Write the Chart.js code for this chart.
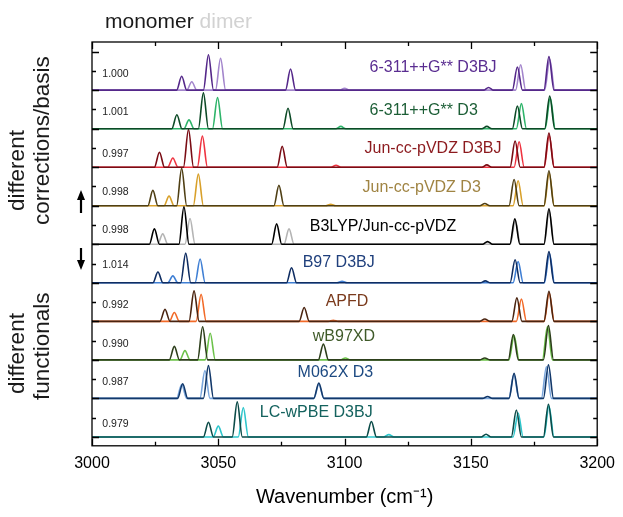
<!DOCTYPE html>
<html>
<head>
<meta charset="utf-8">
<script src="https://cdn.jsdelivr.net/npm/chart.js@4.4.0/dist/chart.umd.min.js"></script>
<style>
  html, body { margin: 0; padding: 0; background: #fff; }
</style>
</head>
<body>
<canvas id="spectra" width="623" height="517"></canvas>
<script>
// panels from top to bottom
const methods = ['6-311++G** D3BJ', '6-311++G** D3', 'Jun-cc-pVDZ D3BJ', 'Jun-cc-pVDZ D3',
    'B3LYP/Jun-cc-pVDZ', 'B97 D3BJ', 'APFD', 'wB97XD', 'M062X D3', 'LC-wPBE D3BJ'];
const scaleFactors = ['1.000', '1.001', '0.997', '0.998', '0.998', '1.014', '0.992', '0.990', '0.987', '0.979'];

// peak positions (cm-1) and heights (1 = panel spacing)
const monomerPos = [
    [3035.5, 3046.1, 3078.6, 3157.0, 3168.4, 3180.9],
    [3033.6, 3044.1, 3077.6, 3156.3, 3168.4, 3181.2],
    [3026.7, 3038.2, 3075.3, 3156.3, 3167.5, 3180.9],
    [3024.1, 3035.5, 3074.0, 3155.5, 3167.1, 3180.9],
    [3024.7, 3036.4, 3073.1, 3156.6, 3167.4, 3180.9],
    [3026.1, 3037.1, 3079.0, 3155.7, 3167.5, 3180.9],
    [3028.9, 3040.4, 3084.0, 3155.5, 3168.2, 3180.9],
    [3032.6, 3043.8, 3091.6, 3155.5, 3166.8, 3180.7],
    [3035.9, 3046.1, 3089.8, 3156.6, 3167.1, 3180.7],
    [3046.1, 3057.5, 3110.6, 3156.0, 3168.0, 3180.7]
];
const monomerInt = [
    [0.36, 0.92, 0.55, 0.07, 0.60, 0.87],
    [0.36, 0.93, 0.53, 0.06, 0.59, 0.85],
    [0.39, 0.98, 0.54, 0.06, 0.68, 0.89],
    [0.40, 0.97, 0.53, 0.06, 0.68, 0.91],
    [0.40, 0.97, 0.53, 0.07, 0.66, 0.92],
    [0.28, 0.77, 0.39, 0.05, 0.60, 0.81],
    [0.31, 0.79, 0.36, 0.06, 0.61, 0.78],
    [0.35, 0.86, 0.41, 0.05, 0.66, 0.89],
    [0.38, 0.85, 0.40, 0.05, 0.65, 0.87],
    [0.38, 0.91, 0.40, 0.07, 0.70, 0.85]
];
const dimerPos = [
    [3039.5, 3050.9, 3100.0, 3169.7, 3181.2],
    [3038.4, 3049.7, 3098.5, 3170.0, 3181.4],
    [3032.0, 3043.7, 3096.6, 3169.1, 3181.0],
    [3030.5, 3042.1, 3094.5, 3168.7, 3181.0],
    [3028.0, 3038.8, 3078.0, 3167.6, 3181.0],
    [3032.0, 3042.8, 3099.0, 3168.7, 3181.1],
    [3032.6, 3043.2, 3095.5, 3170.0, 3181.0],
    [3036.8, 3046.8, 3100.3, 3167.1, 3180.3],
    [3035.5, 3044.7, 3089.8, 3167.0, 3179.9],
    [3050.0, 3059.9, 3117.5, 3168.7, 3180.9]
];
const dimerInt = [
    [0.22, 0.83, 0.05, 0.66, 0.80],
    [0.23, 0.81, 0.06, 0.65, 0.80],
    [0.24, 0.81, 0.05, 0.66, 0.82],
    [0.25, 0.82, 0.04, 0.65, 0.85],
    [0.27, 0.67, 0.40, 0.62, 0.86],
    [0.18, 0.62, 0.04, 0.55, 0.76],
    [0.23, 0.70, 0.03, 0.58, 0.74],
    [0.24, 0.69, 0.05, 0.63, 0.86],
    [0.36, 0.72, 0.36, 0.62, 0.82],
    [0.28, 0.76, 0.06, 0.62, 0.80]
];

const monomerColors = ['#55288a', '#0c4a26', '#7a0c14', '#4f3f14', '#000000',
    '#0f2d62', '#4a2410', '#2d3f1b', '#12386a', '#0b4b48'];
const dimerColors = ['#a385cc', '#2eb46a', '#ef3340', '#d8a02a', '#b4b4b4',
    '#3f7fd4', '#f26a28', '#6cc24a', '#7aa6dc', '#2ec6cc'];
const titleColors = ['#5a2d91', '#1c5e36', '#8c1a1e', '#a08443', '#000000',
    '#1f3f7c', '#7a3a1c', '#3f5a29', '#1d4a82', '#14625e'];

// where the panel names start (cm-1) and how high they sit (panel units)
const titleX = [3109.9, 3109.9, 3107.9, 3107.1, 3086.2, 3083.4, 3092.5, 3087.4, 3081.4, 3066.4];
const titleDy = [0.58, 0.46, 0.48, 0.48, 0.46, 0.53, 0.51, 0.61, 0.66, 0.64];
const factorDy = [0.41, 0.43, 0.33, 0.36, 0.36, 0.46, 0.43, 0.41, 0.43, 0.33];

const xTicks = [3000, 3050, 3100, 3150, 3200];
const halfWidth = 2.0;

function buildSpectrum(pos, ints, offset) {
    const pts = [{ x: 3000, y: offset }];
    pos.forEach((p, k) => {
        pts.push({ x: p - halfWidth, y: offset });
        pts.push({ x: p, y: offset + ints[k] });
        pts.push({ x: p + halfWidth, y: offset });
    });
    pts.push({ x: 3200, y: offset });
    return pts;
}

const datasets = [];
methods.forEach((name, i) => {
    const offset = methods.length - 1 - i;
    datasets.push({
        label: name + ' monomer',
        data: buildSpectrum(monomerPos[i], monomerInt[i], offset),
        borderColor: monomerColors[i],
        borderWidth: 1.6,
        order: 1
    });
    datasets.push({
        label: name + ' dimer',
        data: buildSpectrum(dimerPos[i], dimerInt[i], offset),
        borderColor: dimerColors[i],
        borderWidth: 1.6,
        order: 2
    });
});

const decorations = {
    id: 'decorations',
    afterDatasetsDraw(chart) {
        const { ctx, chartArea: a, scales: { x, y } } = chart;
        ctx.save();

        // panel names and scale factors
        methods.forEach((name, i) => {
            const offset = methods.length - 1 - i;
            ctx.font = '16px "Liberation Sans", Arial, sans-serif';
            ctx.fillStyle = titleColors[i];
            ctx.textAlign = 'left';
            ctx.textBaseline = 'middle';
            ctx.fillText(name, x.getPixelForValue(titleX[i]), y.getPixelForValue(offset + titleDy[i]));

            ctx.font = '10.5px "Liberation Sans", Arial, sans-serif';
            ctx.fillStyle = '#222';
            ctx.textAlign = 'center';
            ctx.fillText(scaleFactors[i], x.getPixelForValue(3009.3), y.getPixelForValue(offset + factorDy[i]));
        });

        // frame + inward ticks
        ctx.strokeStyle = '#000';
        ctx.lineWidth = 1.3;
        ctx.strokeRect(a.left, a.top, a.right - a.left, a.bottom - a.top);
        ctx.beginPath();
        for (let v = 3000; v <= 3200; v += 25) {
            const px = Math.round(x.getPixelForValue(v)) + 0.5;
            const len = v % 50 === 0 ? 7 : 4;
            ctx.moveTo(px, a.bottom); ctx.lineTo(px, a.bottom - len);
            ctx.moveTo(px, a.top); ctx.lineTo(px, a.top + len);
        }
        for (let v = 0; v <= 10; v += 0.5) {
            const py = Math.round(y.getPixelForValue(v)) + 0.5;
            const len = Number.isInteger(v) ? 7 : 4;
            ctx.moveTo(a.left, py); ctx.lineTo(a.left + len, py);
            ctx.moveTo(a.right, py); ctx.lineTo(a.right - len, py);
        }
        ctx.stroke();
        ctx.restore();
    },
    afterDraw(chart) {
        const { ctx } = chart;
        ctx.save();
        // header
        ctx.font = '21px "Liberation Sans", Arial, sans-serif';
        ctx.textBaseline = 'alphabetic';
        ctx.textAlign = 'left';
        ctx.fillStyle = '#1a1a1a';
        ctx.fillText('monomer', 105, 28);
        const w = ctx.measureText('monomer ').width;
        ctx.fillStyle = '#d2d2d2';
        ctx.fillText('dimer', 105 + w, 28);

        // side labels
        ctx.fillStyle = '#1a1a1a';
        ctx.font = '22.5px "Liberation Sans", Arial, sans-serif';
        ctx.textBaseline = 'middle';
        ctx.textAlign = 'left';
        ctx.save();
        ctx.translate(18, 211);
        ctx.rotate(-Math.PI / 2);
        ctx.fillText('different', 0, 0);
        ctx.fillText('corrections/basis', -14, 25);
        ctx.restore();
        ctx.save();
        ctx.translate(18, 394);
        ctx.rotate(-Math.PI / 2);
        ctx.fillText('different', 0, 0);
        ctx.fillText('functionals', -6, 25);
        ctx.restore();

        // arrows
        ctx.strokeStyle = '#000';
        ctx.fillStyle = '#000';
        ctx.lineWidth = 2.2;
        const arrow = (xx, y0, y1) => {
            const dir = Math.sign(y1 - y0);
            ctx.beginPath(); ctx.moveTo(xx, y0); ctx.lineTo(xx, y1 - dir * 6); ctx.stroke();
            ctx.beginPath(); ctx.moveTo(xx, y1); ctx.lineTo(xx - 4, y1 - dir * 10); ctx.lineTo(xx + 4, y1 - dir * 10); ctx.closePath(); ctx.fill();
        };
        arrow(81, 213, 190);
        arrow(81, 248, 270);
        ctx.restore();
    }
};

new Chart(document.getElementById('spectra'), {
    type: 'line',
    data: { datasets: datasets },
    options: {
        responsive: false,
        animation: false,
        devicePixelRatio: 1,
        layout: { padding: { left: 92, right: 25, top: 42, bottom: 8 } },
        elements: { point: { radius: 0 }, line: { tension: 0, cubicInterpolationMode: 'monotone', fill: false } },
        plugins: { legend: { display: false }, tooltip: { enabled: false } },
        scales: {
            x: {
                type: 'linear',
                min: 3000,
                max: 3200,
                afterBuildTicks: (scale) => { scale.ticks = xTicks.map(v => ({ value: v })); },
                grid: { display: false, drawTicks: false },
                border: { display: false },
                ticks: {
                    padding: 8,
                    color: '#000',
                    font: { size: 16, family: '"Liberation Sans", Arial, sans-serif' },
                    maxRotation: 0,
                    callback: (v) => String(v)
                },
                title: {
                    display: true,
                    text: 'Wavenumber (cm\u207B\u00B9)',
                    color: '#000',
                    font: { size: 20, family: '"Liberation Sans", Arial, sans-serif' },
                    padding: { top: 4, bottom: 0 }
                }
            },
            y: {
                type: 'linear',
                display: false,
                min: -0.23,
                max: 10.25
            }
        }
    },
    plugins: [decorations]
});
</script>
</body>
</html>
